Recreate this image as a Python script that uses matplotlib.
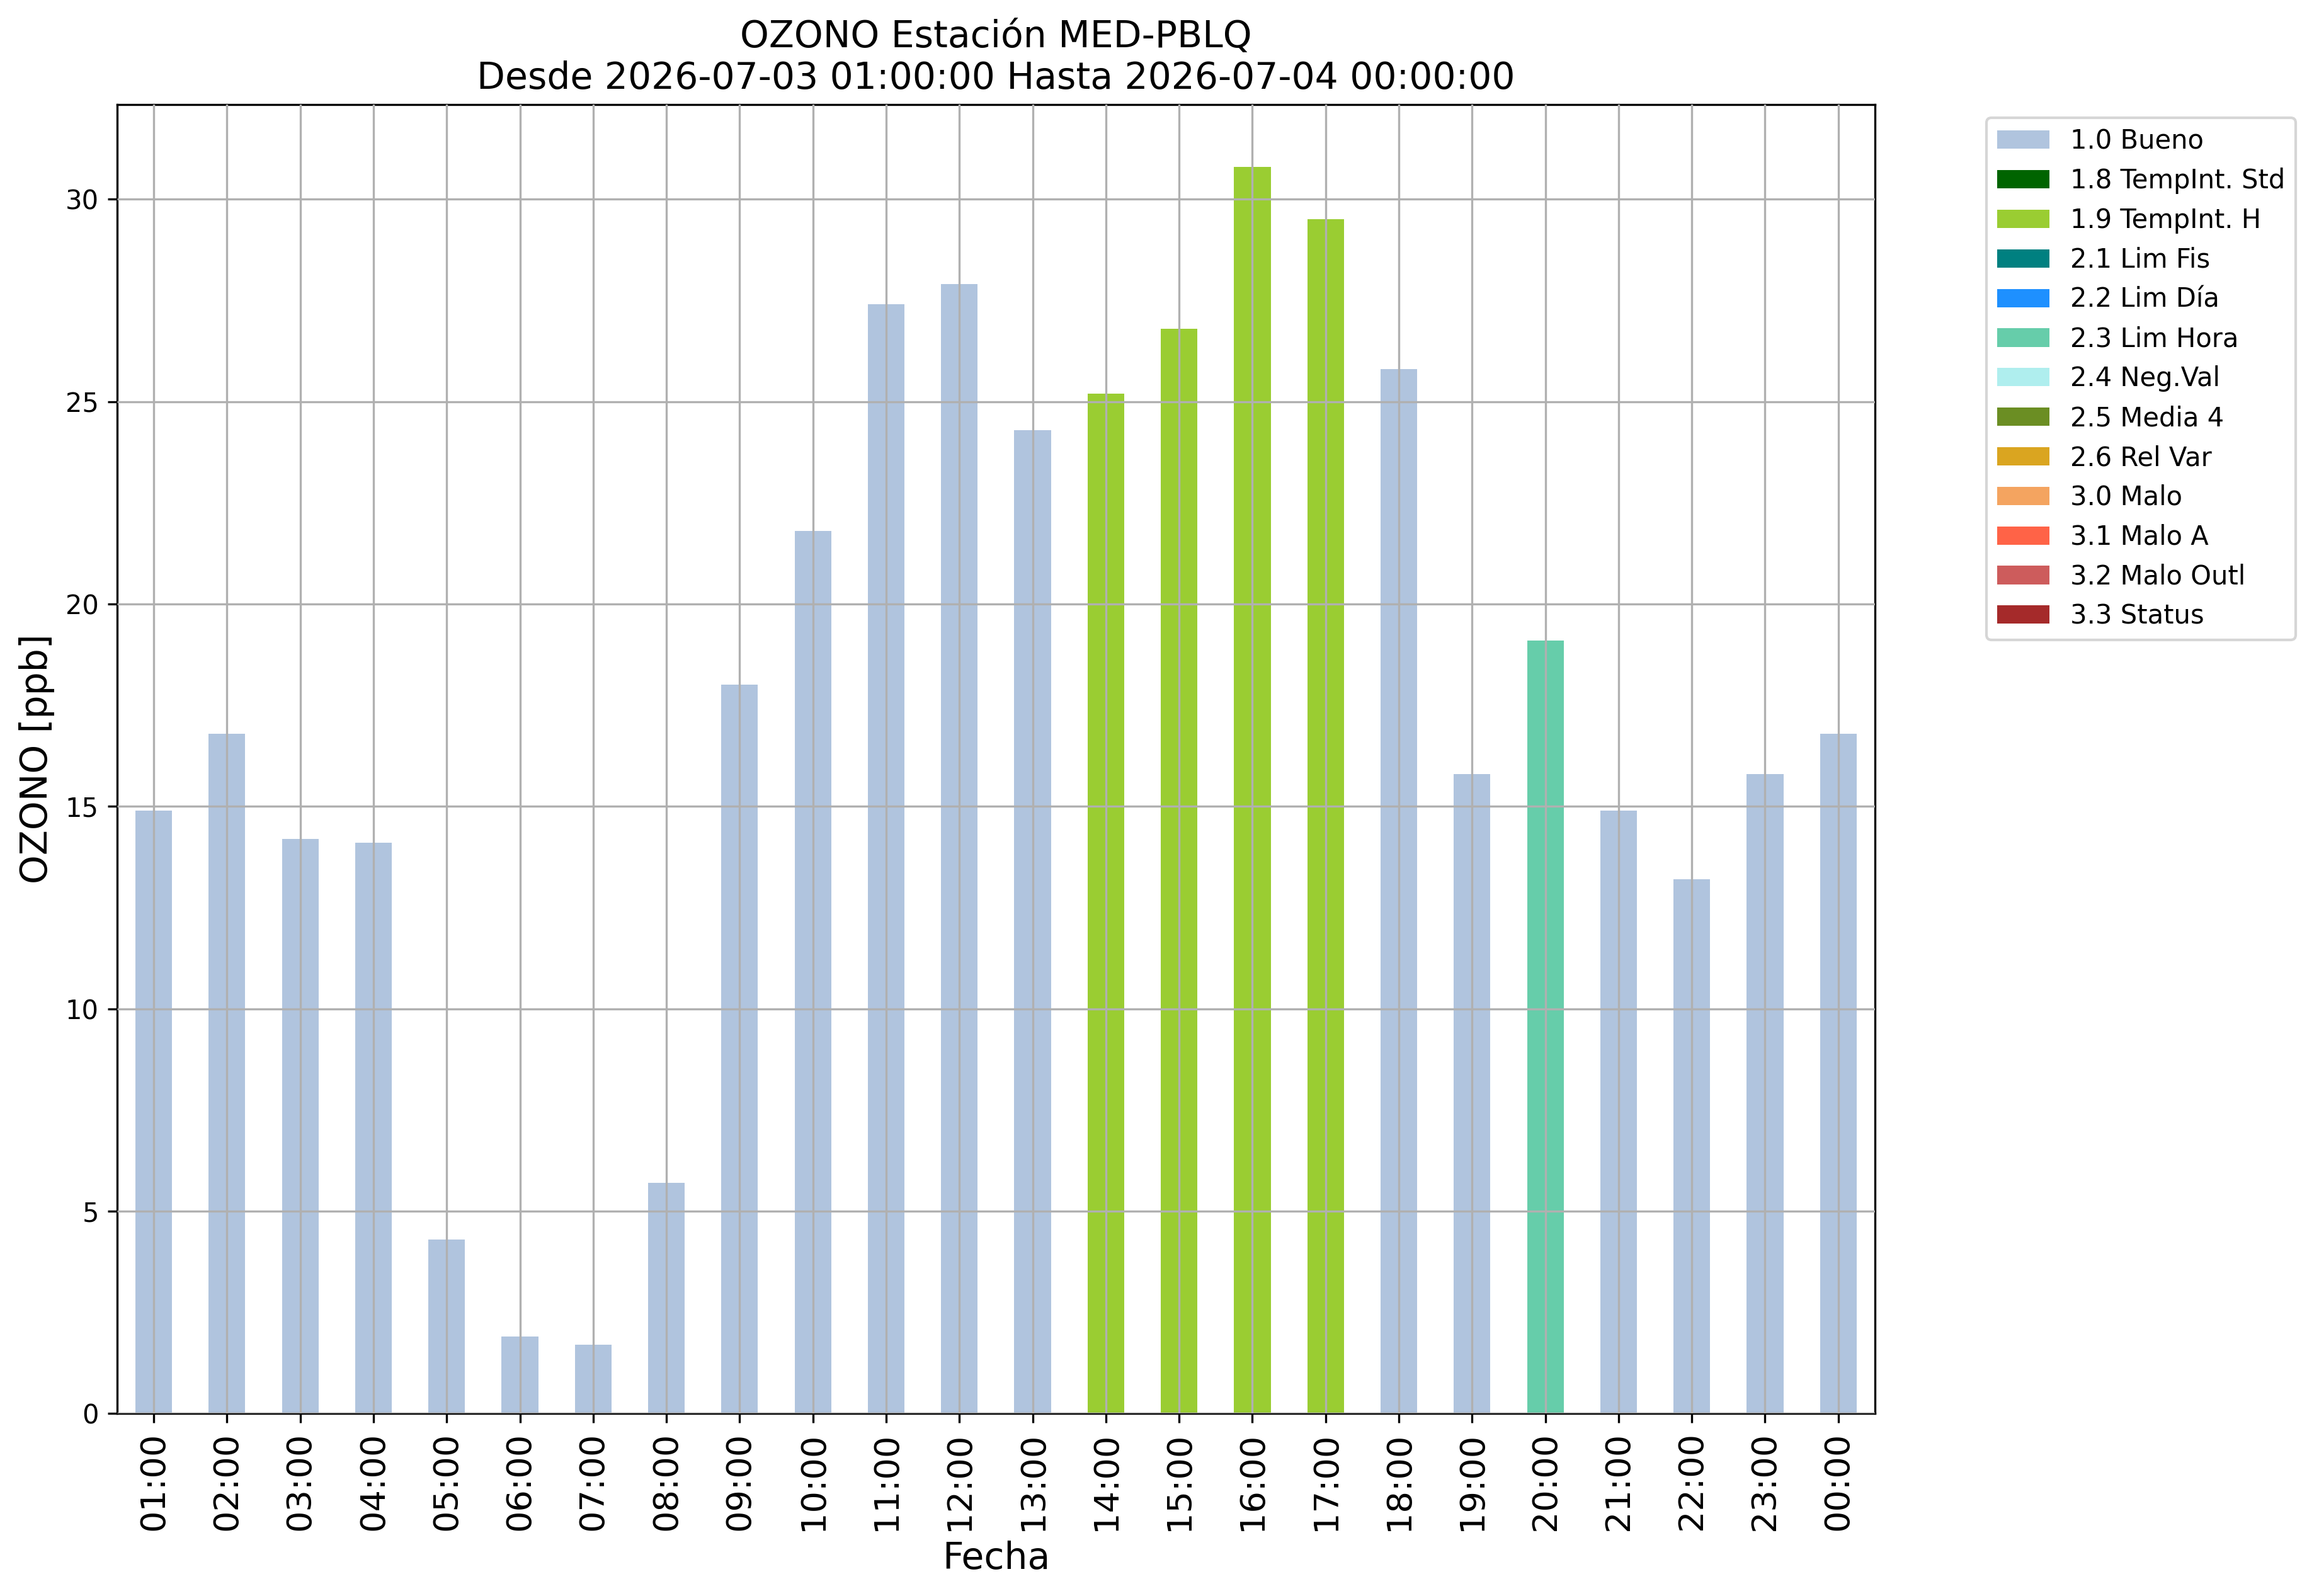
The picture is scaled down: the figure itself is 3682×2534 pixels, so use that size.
import matplotlib
matplotlib.use("Agg")
import matplotlib.pyplot as plt
from matplotlib.patches import Patch

hours = ["01:00", "02:00", "03:00", "04:00", "05:00", "06:00", "07:00", "08:00",
         "09:00", "10:00", "11:00", "12:00", "13:00", "14:00", "15:00", "16:00",
         "17:00", "18:00", "19:00", "20:00", "21:00", "22:00", "23:00", "00:00"]
values = [14.9, 16.8, 14.2, 14.1, 4.3, 1.9, 1.7, 5.7,
          18.0, 21.8, 27.4, 27.9, 24.3, 25.2, 26.8, 30.8,
          29.5, 25.8, 15.8, 19.1, 14.9, 13.2, 15.8, 16.8]
flags = ["1.0 Bueno"] * 13 + ["1.9 TempInt. H"] * 4 + ["1.0 Bueno"] * 2 + \
        ["2.3 Lim Hora"] + ["1.0 Bueno"] * 4

categories = ["1.0 Bueno", "1.8 TempInt. Std", "1.9 TempInt. H", "2.1 Lim Fis",
              "2.2 Lim Día", "2.3 Lim Hora", "2.4 Neg.Val", "2.5 Media 4",
              "2.6 Rel Var", "3.0 Malo", "3.1 Malo A", "3.2 Malo Outl", "3.3 Status"]
colors = ["lightsteelblue", "darkgreen", "yellowgreen", "teal", "dodgerblue",
          "mediumaquamarine", "paleturquoise", "olivedrab", "goldenrod",
          "sandybrown", "tomato", "indianred", "brown"]
cmap = dict(zip(categories, colors))

DPI = 300
fig = plt.figure(figsize=(3682 / DPI, 2534 / DPI), dpi=DPI)
ax = fig.add_axes([0.0505, 0.1144, 0.758, 0.8201])

x = list(range(len(hours)))
ax.bar(x, values, width=0.5, color=[cmap[f] for f in flags], zorder=1)
ax.set_xlim(-0.5, len(hours) - 0.5)
ax.set_ylim(0, max(values) * 1.05)
ax.set_xticks(x)
ax.set_xticklabels(hours, rotation=90, fontsize=13)
ax.tick_params(axis="y", labelsize=10)
ax.grid(True, color="#b0b0b0", linewidth=0.8)
ax.set_axisbelow(False)
for gl in ax.get_xgridlines() + ax.get_ygridlines():
    gl.set_zorder(2)

ax.set_xlabel("Fecha", fontsize=14)
ax.set_ylabel("OZONO [ppb]", fontsize=14)
ax.set_title("OZONO Estación MED-PBLQ\nDesde 2026-07-03 01:00:00 Hasta 2026-07-04 00:00:00",
             fontsize=14)

handles = [Patch(facecolor=c, label=l) for l, c in zip(categories, colors)]
ax.legend(handles=handles, bbox_to_anchor=(1.056, 1), loc="upper left", fontsize=10)

fig.savefig("out.png", dpi=DPI)
